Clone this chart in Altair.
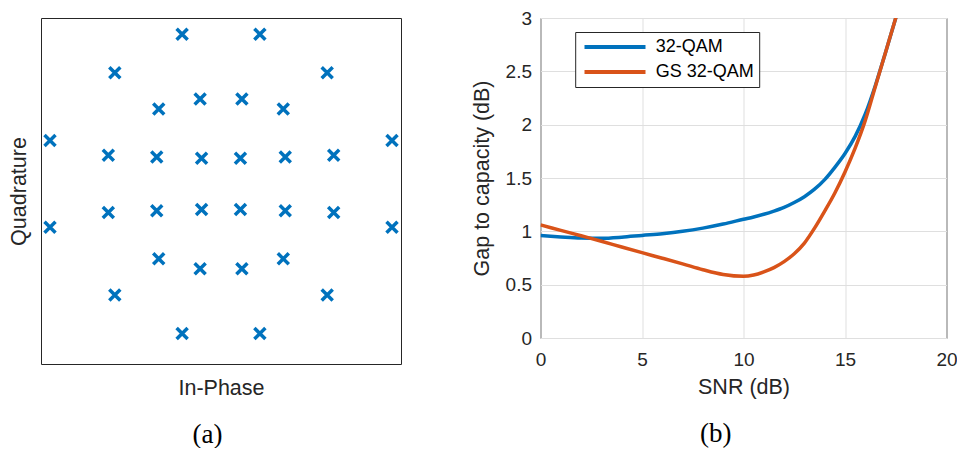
import altair as alt
import pandas as pd

# ---------------- (a) constellation (normalized units) ----------------
const_i = [-0.216, 0.216,
           -0.590, 0.590,
           -0.346, -0.116, 0.116, 0.346,
           -0.950, 0.950,
           -0.626, -0.357, -0.108, 0.108, 0.357, 0.626,
           -0.626, -0.357, -0.108, 0.108, 0.357, 0.626,
           -0.950, 0.950,
           -0.346, -0.116, 0.116, 0.346,
           -0.590, 0.590,
           -0.216, 0.216]
const_q = [0.831, 0.831,
           0.617, 0.617,
           0.416, 0.471, 0.471, 0.416,
           0.241, 0.241,
           0.159, 0.149, 0.142, 0.142, 0.149, 0.159,
           -0.159, -0.149, -0.142, -0.142, -0.149, -0.159,
           -0.241, -0.241,
           -0.416, -0.471, -0.471, -0.416,
           -0.617, -0.617,
           -0.831, -0.831]

# ---------------- (b) gap to capacity ----------------
snr = [0, 1, 2, 3, 4, 5, 6, 7, 8, 9, 10, 10.5, 11, 11.5, 12, 12.5, 13, 13.5, 14,
       14.5, 15, 15.5, 16, 16.5, 17, 17.5, 17.8]
gap_qam = [0.96, 0.948, 0.938, 0.935, 0.945, 0.962, 0.978, 1.0, 1.03, 1.068, 1.113, 1.135,
           1.16, 1.19, 1.225, 1.27, 1.325, 1.395, 1.485, 1.60, 1.73, 1.89, 2.10, 2.37,
           2.68, 3.0, 3.2]
gap_gs = [1.06, 1.009, 0.958, 0.907, 0.853, 0.80, 0.748, 0.695, 0.64, 0.595, 0.578, 0.59,
          0.62, 0.66, 0.716, 0.79, 0.89, 1.03, 1.19, 1.36, 1.557, 1.78, 2.04, 2.36,
          2.68, 3.0, 3.2]
series_names = ["32-QAM", "GS 32-QAM"]
series_colors = ["#0072BD", "#D95319"]

x_ticks = [0, 5, 10, 15, 20]
y_ticks = [0, 0.5, 1, 1.5, 2, 2.5, 3]

df_const = pd.DataFrame({"I": const_i, "Q": const_q})
df_gap = pd.concat([
    pd.DataFrame({"SNR": snr, "gap": gap_qam, "series": series_names[0], "k": 0}),
    pd.DataFrame({"SNR": snr, "gap": gap_gs, "series": series_names[1], "k": 1}),
])

SANS = "Liberation Sans"
SERIF = "Liberation Serif"
DARK = "#262626"

left = alt.Chart(df_const).mark_point(
    shape="M-1,-1L1,1M-1,1L1,-1", filled=False, size=121, strokeWidth=3.5,
    color="#0072BD", opacity=1
).encode(
    x=alt.X("I:Q", scale=alt.Scale(domain=[-1, 1], nice=False, zero=False),
            axis=alt.Axis(title="In-Phase", labels=False, ticks=False, grid=False,
                          domain=False, titlePadding=13)),
    y=alt.Y("Q:Q", scale=alt.Scale(domain=[-1.0, 0.921], nice=False, zero=False),
            axis=alt.Axis(title="Quadrature", labels=False, ticks=False, grid=False,
                          domain=False, titlePadding=10.5)),
).properties(
    width=360, height=346,
    title=alt.TitleParams("(a)", orient="bottom", font=SERIF, fontSize=27,
                          fontWeight="normal", color="black", anchor="middle",
                          frame="bounds", offset=23, dx=1, baseline="top"),
)

right = alt.Chart(df_gap).mark_line(strokeWidth=3.5, clip=True, interpolate="monotone").encode(
    x=alt.X("SNR:Q", scale=alt.Scale(domain=[0, 20], nice=False),
            axis=alt.Axis(title="SNR (dB)", values=x_ticks, format="d", ticks=False,
                          labelFlush=False, labelPadding=12, titlePadding=7.7,
                          grid=True, domain=False)),
    y=alt.Y("gap:Q", scale=alt.Scale(domain=[0, 3], nice=False),
            axis=alt.Axis(title="Gap to capacity (dB)", values=y_ticks, format="~g",
                          ticks=False, labelFlush=False, labelPadding=9, titlePadding=12,
                          grid=True, domain=False)),
    color=alt.Color("series:N",
                    scale=alt.Scale(domain=series_names, range=series_colors),
                    sort=series_names,
                    legend=alt.Legend(title=None, orient="none", legendX=34.7, legendY=14,
                                      symbolType="stroke", symbolSize=3721,
                                      symbolStrokeWidth=4, clipHeight=20, rowPadding=5,
                                      padding=5, symbolOffset=2.3, labelOffset=8.3,
                                      labelFont=SANS, labelFontSize=18, labelColor="black",
                                      strokeColor=DARK, fillColor="white")),
    order=alt.Order("k:Q"),
).properties(
    width=406, height=320,
    title=alt.TitleParams("(b)", orient="bottom", font=SERIF, fontSize=27,
                          fontWeight="normal", color="black", anchor="middle",
                          frame="bounds", offset=22.5, dx=1.7, baseline="top"),
)

chart = alt.hconcat(left, right, spacing=65.5).resolve_legend(
    color="independent"
).properties(
    padding={"left": 0, "top": 0, "right": -1, "bottom": 0}
).configure_view(
    stroke=DARK, strokeWidth=1
).configure_axis(
    labelFont=SANS, labelFontSize=19, labelColor=DARK,
    titleFont=SANS, titleFontSize=21.5, titleColor=DARK, titleFontWeight="normal",
    gridColor="#dfdfdf", gridWidth=1,
)

chart.save("out.html", embed_options={"renderer": "svg", "actions": False})
